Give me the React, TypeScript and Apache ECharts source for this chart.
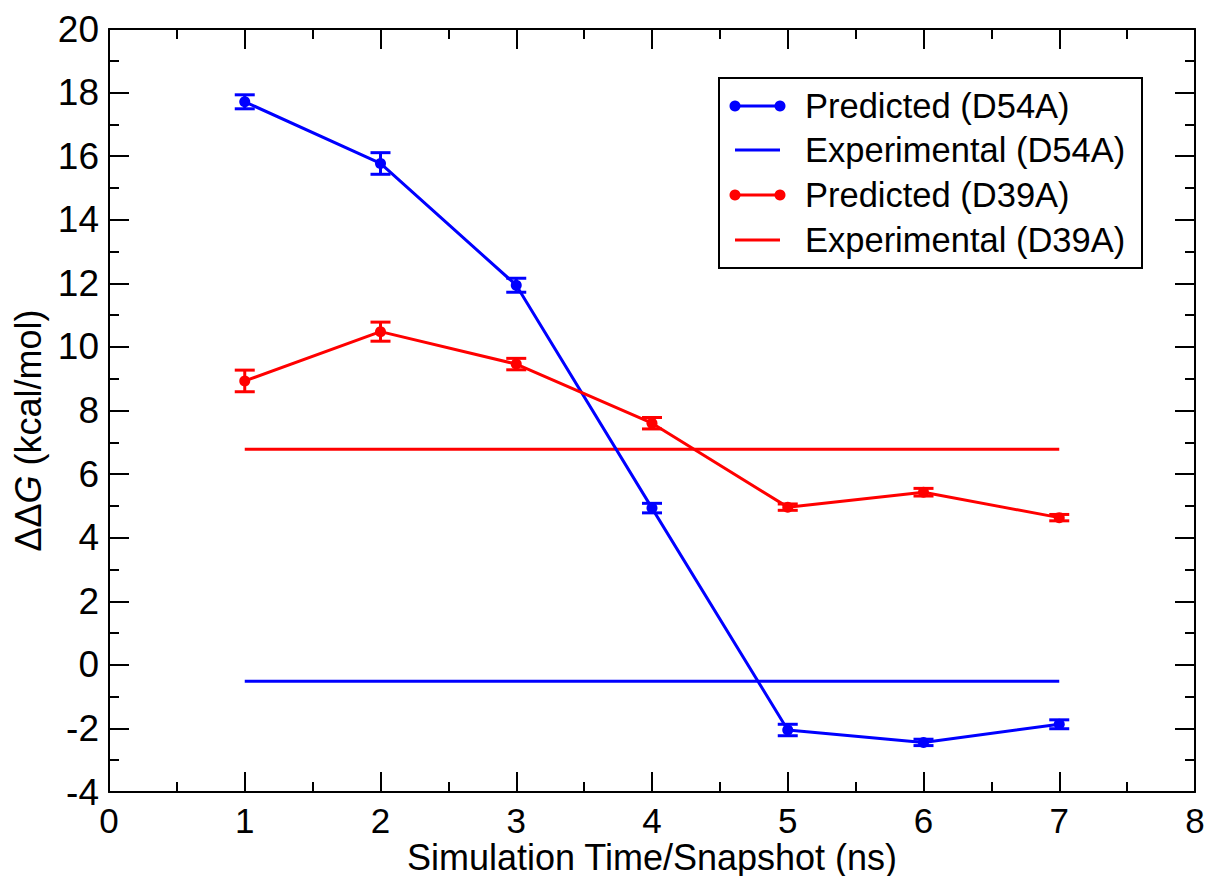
import React, { useEffect, useRef } from "react";
import * as echarts from "echarts";

const snapshots = [1, 2, 3, 4, 5, 6, 7];
const predD54A = [17.71, 15.77, 11.94, 4.93, -2.05, -2.44, -1.87];
const errD54A = [0.22, 0.34, 0.22, 0.15, 0.18, 0.1, 0.14];
const predD39A = [8.93, 10.48, 9.46, 7.6, 4.96, 5.43, 4.63];
const errD39A = [0.34, 0.3, 0.18, 0.18, 0.1, 0.12, 0.1];
const expD54A = -0.52;
const expD39A = 6.78;
const legendNames = [
  "Predicted (D54A)",
  "Experimental (D54A)",
  "Predicted (D39A)",
  "Experimental (D39A)",
];

const BLUE = "#0000ff";
const RED = "#ff0000";
const FONT = "'Liberation Sans', Arial, Helvetica, sans-serif";

function errorBars(name: string, ys: number[], errs: number[], color: string) {
  return {
    name: name + " err",
    type: "custom",
    xAxisIndex: 0,
    yAxisIndex: 0,
    data: snapshots.map((x, i) => [x, ys[i], errs[i]]),
    z: 3,
    renderItem: (params: any, api: any) => {
      const x = api.value(0);
      const y = api.value(1);
      const e = api.value(2);
      const top = api.coord([x, y + e]);
      const bot = api.coord([x, y - e]);
      const hw = 10;
      const st = { stroke: color, lineWidth: 3 };
      return {
        type: "group",
        children: [
          { type: "line", shape: { x1: top[0], y1: top[1], x2: bot[0], y2: bot[1] }, style: st },
          { type: "line", shape: { x1: top[0] - hw, y1: top[1], x2: top[0] + hw, y2: top[1] }, style: st },
          { type: "line", shape: { x1: bot[0] - hw, y1: bot[1], x2: bot[0] + hw, y2: bot[1] }, style: st },
        ],
      };
    },
  };
}

export default function App() {
  const ref = useRef<HTMLDivElement>(null);
  useEffect(() => {
    if (!ref.current) return;
    const chart = echarts.init(ref.current, null, { renderer: "svg" });
    const axisCommon = {
      axisLine: { show: true, onZero: false, lineStyle: { color: "#000", width: 2 } },
      axisTick: { show: true, inside: true, length: 20, lineStyle: { color: "#000", width: 2 } },
      minorTick: { show: true, splitNumber: 2, length: 10, lineStyle: { color: "#000", width: 2 } },
      splitLine: { show: false },
    };
    const yLabelStyle = { color: "#000", fontSize: 37, fontFamily: FONT, margin: 10 };
    const xLabelStyle = { color: "#000", fontSize: 35, lineHeight: 35, fontFamily: FONT, margin: 11 };
    const lx = 735, rx = 780, tx = 805;
    const rows = [106, 150, 195, 240];
    const colors = [BLUE, BLUE, RED, RED];
    const legendChildren: any[] = [
      {
        type: "rect",
        shape: { x: 719, y: 78, width: 423, height: 190 },
        style: { fill: "#fff", stroke: "#000", lineWidth: 2 },
      },
    ];
    rows.forEach((y, i) => {
      legendChildren.push({
        type: "line",
        shape: { x1: lx, y1: y, x2: rx, y2: y },
        style: { stroke: colors[i], lineWidth: 3 },
      });
      if (i % 2 === 0) {
        legendChildren.push({ type: "circle", shape: { cx: lx, cy: y, r: 5.5 }, style: { fill: colors[i] } });
        legendChildren.push({ type: "circle", shape: { cx: rx, cy: y, r: 5.5 }, style: { fill: colors[i] } });
      }
      legendChildren.push({
        type: "text",
        x: tx,
        y: y,
        style: {
          text: legendNames[i],
          fill: "#000",
          font: `34.5px ${FONT}`,
          verticalAlign: "middle",
          align: "left",
        },
      });
    });

    chart.setOption({
      animation: false,
      backgroundColor: "#fff",
      grid: { left: 109, right: 13, top: 29, bottom: 84, containLabel: false, outerBoundsMode: "none" },
      xAxis: [
        {
          type: "value",
          min: 0,
          max: 8,
          interval: 1,
          position: "bottom",
          ...axisCommon,
          axisLabel: { ...xLabelStyle },
          name: "Simulation Time/Snapshot (ns)",
          nameLocation: "middle",
          nameGap: 47,
          nameMoveOverlap: false,
          nameTextStyle: { color: "#000", fontSize: 36, lineHeight: 36, fontFamily: FONT },
        },
        {
          type: "value",
          min: 0,
          max: 8,
          interval: 1,
          position: "top",
          ...axisCommon,
          axisLabel: { show: false },
        },
      ],
      yAxis: [
        {
          type: "value",
          min: -4,
          max: 20,
          interval: 2,
          position: "left",
          ...axisCommon,
          axisLabel: { ...yLabelStyle },
          name: "{d|ΔΔ}{i|G}{d| (kcal/mol)}",
          nameLocation: "middle",
          nameGap: 62,
          nameTextStyle: {
            color: "#000",
            fontSize: 36,
            fontFamily: FONT,
            padding: [0, 40, 0, 0],
            rich: {
              d: { fontSize: 36, fontFamily: FONT, color: "#000" },
              i: { fontSize: 36, fontFamily: FONT, fontStyle: "italic", color: "#000" },
            },
          },
        },
        {
          type: "value",
          min: -4,
          max: 20,
          interval: 2,
          position: "right",
          ...axisCommon,
          axisLabel: { show: false },
        },
      ],
      series: [
        {
          name: legendNames[0],
          type: "line",
          xAxisIndex: 0,
          yAxisIndex: 0,
          data: snapshots.map((x, i) => [x, predD54A[i]]),
          symbol: "circle",
          symbolSize: 11,
          lineStyle: { color: BLUE, width: 3 },
          itemStyle: { color: BLUE },
          z: 4,
        },
        {
          name: legendNames[1],
          type: "line",
          xAxisIndex: 0,
          yAxisIndex: 0,
          data: [
            [snapshots[0], expD54A],
            [snapshots[snapshots.length - 1], expD54A],
          ],
          symbol: "none",
          lineStyle: { color: BLUE, width: 3 },
          itemStyle: { color: BLUE },
        },
        {
          name: legendNames[2],
          type: "line",
          xAxisIndex: 0,
          yAxisIndex: 0,
          data: snapshots.map((x, i) => [x, predD39A[i]]),
          symbol: "circle",
          symbolSize: 11,
          lineStyle: { color: RED, width: 3 },
          itemStyle: { color: RED },
          z: 4,
        },
        {
          name: legendNames[3],
          type: "line",
          xAxisIndex: 0,
          yAxisIndex: 0,
          data: [
            [snapshots[0], expD39A],
            [snapshots[snapshots.length - 1], expD39A],
          ],
          symbol: "none",
          lineStyle: { color: RED, width: 3 },
          itemStyle: { color: RED },
        },
        errorBars(legendNames[0], predD54A, errD54A, BLUE),
        errorBars(legendNames[2], predD39A, errD39A, RED),
      ],
      graphic: [{ type: "group", z: 100, children: legendChildren }],
    });
    return () => chart.dispose();
  }, []);
  return <div ref={ref} style={{ width: 1208, height: 876, position: "absolute", left: 0, top: 0 }} />;
}
